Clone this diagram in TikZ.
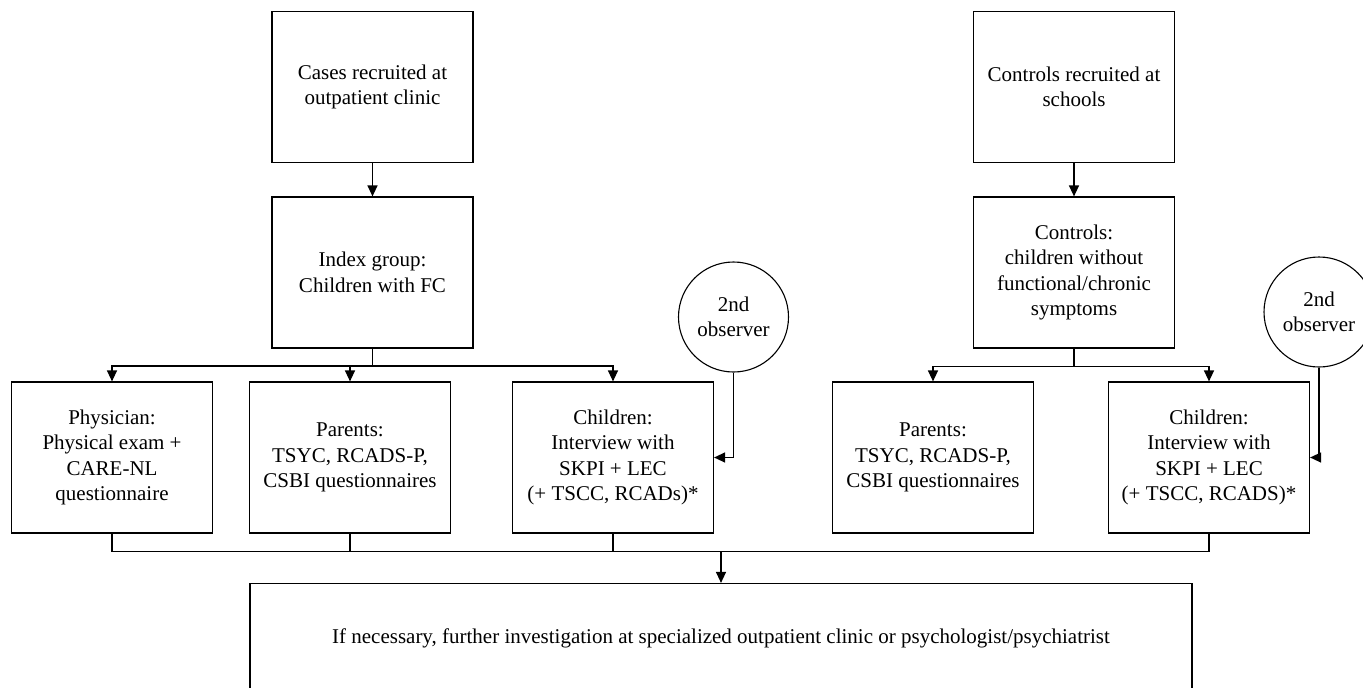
\documentclass[tikz,border=0pt]{standalone}
\usepackage{fontspec}
\setmainfont{Liberation Serif}
\usetikzlibrary{arrows.meta}
\begin{document}
\begin{tikzpicture}[x=1pt,y=-1pt,
  every node/.style={font=\fontsize{21}{25.5}\selectfont},
  box/.style={draw, line width=1.2pt, rectangle, align=center, minimum width=201pt, minimum height=151pt, inner sep=0pt},
  obs/.style={draw, line width=1.1pt, circle, align=center, minimum size=110pt, inner sep=0pt},
  conn/.style={line width=1.3pt},
  arr/.style={conn, -{Triangle[length=11pt,width=10pt]}}]
\useasboundingbox (0,0) rectangle (1363,688);
% left column
\node[box] (cases) at (372.5,87) {Cases recruited at\\outpatient clinic};
\node[box] (index) at (372.5,272.5) {Index group:\\Children with FC};
\node[box] (phys) at (112,457.5) {Physician:\\Physical exam +\\CARE-NL\\questionnaire};
\node[box] (par1) at (350,457.5) {Parents:\\TSYC, RCADS-P,\\CSBI questionnaires};
\node[box] (chi1) at (613,457.5) {Children:\\Interview with\\SKPI + LEC\\(+ TSCC, RCADs)*};
\node[obs] (obs1) at (733.5,317) {2nd\\observer};
% right column
\node[box] (ctrlrec) at (1074,87) {Controls recruited at\\schools};
\node[box] (ctrl) at (1074,272.5) {Controls:\\children without\\functional/chronic\\symptoms};
\node[box] (par2) at (933,457.5) {Parents:\\TSYC, RCADS-P,\\CSBI questionnaires};
\node[box] (chi2) at (1209,457.5) {Children:\\Interview with\\SKPI + LEC\\(+ TSCC, RCADS)*};
\node[obs] (obs2) at (1319,312) {2nd\\observer};
% final
\node[box, minimum width=942pt, minimum height=109pt] (final) at (721,638) {If necessary, further investigation at specialized outpatient clinic or psychologist/psychiatrist};
% connectors
\draw[arr] (cases) -- (index);
\draw[arr] (ctrlrec) -- (ctrl);
\coordinate (j1) at (372.5,366);
\draw[conn] (index.south) -- (j1);
\draw[arr] (j1) -| (phys.north);
\draw[arr] (j1) -| (par1.north);
\draw[arr] (j1) -| (chi1.north);
\coordinate (j2) at (1074,366.5);
\draw[conn] (ctrl.south) -- (j2);
\draw[arr] (j2) -| (par2.north);
\draw[arr] (j2) -| (chi2.north);
\draw[arr] (obs1.south) |- (chi1.east);
\draw[arr] (obs2.south) |- (chi2.east);
\coordinate (jb) at (721,551.5);
\draw[conn] (phys.south) |- (chi2.south |- jb) -- (chi2.south);
\draw[conn] (par1.south) -- (par1.south |- jb);
\draw[conn] (chi1.south) -- (chi1.south |- jb);
\draw[arr] (jb) -- (final.north);
\end{tikzpicture}
\end{document}
